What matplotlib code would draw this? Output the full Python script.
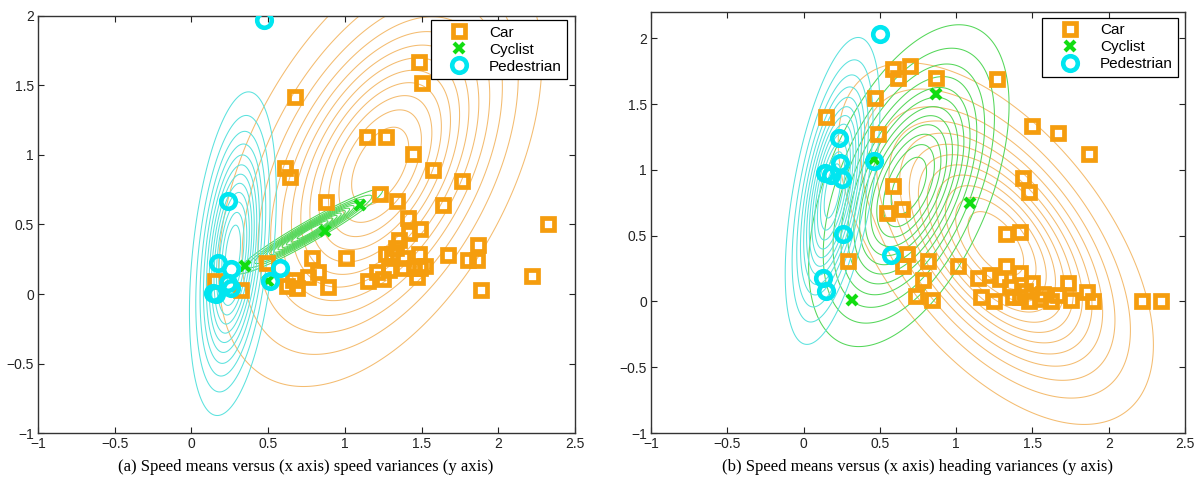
import numpy as np
import matplotlib.pyplot as plt

# ---- data ----
# panel (a): speed mean (x) vs speed variance (y)
car_a_x = [0.675, 0.61, 0.64, 1.48, 1.50, 1.145, 1.27, 1.445, 1.575, 1.76, 1.23, 1.34,
           0.88, 1.64, 1.41, 1.49, 2.325, 1.35, 1.42, 1.87, 1.67, 1.80, 1.86, 1.48, 2.22,
           1.89, 1.45, 0.49, 0.785, 1.01, 0.825, 0.66, 0.62, 0.69, 0.76, 0.89, 0.32, 0.155,
           1.15, 1.25, 1.27, 1.49, 1.47, 1.38, 1.31, 1.21, 1.29, 1.33, 1.52, 1.38]
car_a_y = [1.42, 0.91, 0.84, 1.67, 1.52, 1.13, 1.13, 1.01, 0.89, 0.81, 0.72, 0.67,
           0.66, 0.64, 0.55, 0.47, 0.50, 0.39, 0.44, 0.35, 0.28, 0.245, 0.245, 0.29, 0.13,
           0.03, 0.19, 0.22, 0.26, 0.26, 0.16, 0.10, 0.06, 0.04, 0.12, 0.05, 0.03, 0.09,
           0.09, 0.11, 0.29, 0.19, 0.12, 0.19, 0.29, 0.16, 0.17, 0.33, 0.20, 0.26]
cyc_a_x = [1.10, 0.87, 0.35, 0.50]
cyc_a_y = [0.64, 0.45, 0.20, 0.09]
ped_a_x = [0.47, 0.24, 0.17, 0.26, 0.24, 0.14, 0.26, 0.58, 0.51, 0.16]
ped_a_y = [1.97, 0.67, 0.22, 0.18, 0.08, 0.01, 0.04, 0.19, 0.09, 0.00]

# panel (b): speed mean (x) vs heading variance (y)
car_b_x = [0.585, 0.62, 0.47, 0.15, 0.49, 0.585, 0.55, 0.645, 0.70, 0.87, 1.27, 1.50,
           1.67, 1.87, 1.44, 1.48, 1.33, 1.42, 0.29, 0.68, 0.65, 0.815, 1.01, 0.78, 0.74,
           0.84, 1.14, 1.22, 1.33, 1.42, 1.16, 1.25, 1.37, 1.50, 1.73, 1.57, 1.67, 1.75,
           1.86, 1.90, 2.22, 2.34, 1.35, 1.42, 1.48, 1.45, 1.55, 1.62, 1.29]
car_b_y = [1.77, 1.70, 1.55, 1.40, 1.27, 0.88, 0.67, 0.70, 1.79, 1.70, 1.69, 1.33,
           1.28, 1.12, 0.94, 0.83, 0.51, 0.53, 0.31, 0.36, 0.27, 0.31, 0.27, 0.16, 0.045,
           0.01, 0.18, 0.20, 0.27, 0.22, 0.03, 0.00, 0.03, 0.14, 0.14, 0.06, 0.05, 0.01,
           0.07, 0.00, 0.00, 0.00, 0.11, 0.03, 0.00, 0.08, 0.02, 0.00, 0.17]
cyc_b_x = [0.87, 1.09, 0.46, 0.32]
cyc_b_y = [1.58, 0.75, 1.08, 0.01]
ped_b_x = [0.50, 0.23, 0.46, 0.14, 0.24, 0.25, 0.18, 0.26, 0.57, 0.13, 0.15]
ped_b_y = [2.03, 1.24, 1.07, 0.98, 1.05, 0.93, 0.96, 0.51, 0.35, 0.18, 0.08]

# fitted gaussians: (mean x, mean y, sd x, sd y, corr)
gauss_a = {"car": (1.23, 0.92, 0.465, 0.70, 0.475),
           "cyc": (0.77, 0.45, 0.21, 0.135, 0.96),
           "ped": (0.27, 0.29, 0.125, 0.514, 0.36)}
gauss_b = {"car": (1.26, 0.44, 0.456, 0.607, -0.56),
           "cyc": (0.69, 0.88, 0.29, 0.54, 0.50),
           "ped": (0.19, 0.84, 0.137, 0.515, 0.54)}
n_levels = 12

captions = ["(a) Speed means versus (x axis) speed variances (y axis)",
            "(b) Speed means versus (x axis) heading variances (y axis)"]

ORANGE = "#F59D0E"
GREEN = "#11DD11"
CYAN = "#00E6F0"
contour_colors = {"car": "#F4BC70", "cyc": "#55D75A", "ped": "#5CE2DE"}


def gauss_grid(params, xx, yy):
    mx, my, sx, sy, r = params
    dx = (xx - mx) / sx
    dy = (yy - my) / sy
    d2 = (dx * dx - 2 * r * dx * dy + dy * dy) / (1 - r * r)
    return np.exp(-0.5 * d2)


def fmt(v):
    return ('%g' % v).replace('-', '\u2212')


plt.rcParams['font.family'] = ['Liberation Sans', 'DejaVu Sans']
fig = plt.figure(figsize=(12, 4.92), dpi=100)
ax_a = fig.add_axes([0.0317, 0.1199, 0.4475, 0.8476])
ax_b = fig.add_axes([0.5425, 0.1199, 0.4450, 0.8557])

panels = [
    (ax_a, car_a_x, car_a_y, cyc_a_x, cyc_a_y, ped_a_x, ped_a_y, gauss_a, (-1, 2), (0.985, 0.990)),
    (ax_b, car_b_x, car_b_y, cyc_b_x, cyc_b_y, ped_b_x, ped_b_y, gauss_b, (-1, 2.2), (0.987, 0.986)),
]

xs = np.linspace(-1, 2.5, 500)
ys = np.linspace(-1, 2.5, 500)
xx, yy = np.meshgrid(xs, ys)
levels = np.arange(1, n_levels + 1) / (n_levels + 1)

for i, (ax, cx, cy, kx, ky, px, py, gauss, ylim, leg_pos) in enumerate(panels):
    for key in ["car", "cyc", "ped"]:
        ax.contour(xx, yy, gauss_grid(gauss[key], xx, yy), levels=levels,
                   colors=contour_colors[key], linewidths=0.75, zorder=1)

    ax.plot(cx, cy, 's', ms=8, mfc='none', mec=ORANGE, mew=3.4, label='Car', zorder=3)
    ax.plot(kx, ky, 'x', ms=7, mec=GREEN, mew=3, label='Cyclist', zorder=4)
    ax.plot(px, py, 'o', ms=10.5, mfc='none', mec=CYAN, mew=3.3, label='Pedestrian', zorder=5)

    xt = np.arange(-1, 2.51, 0.5)
    yt = np.arange(-1, ylim[1] + 0.01, 0.5)
    ax.set_xlim(-1, 2.5)
    ax.set_ylim(*ylim)
    ax.set_xticks(xt)
    ax.set_yticks(yt)
    ax.set_xticklabels([fmt(v) for v in xt])
    ax.set_yticklabels([fmt(v) for v in yt])
    ax.tick_params(direction='in', top=True, right=True, labelsize=10,
                   length=4, width=0.8, colors='#222222', pad=3)
    for sp in ax.spines.values():
        sp.set_linewidth(1.0)
        sp.set_color('#333333')

    leg = ax.legend(loc='upper right', bbox_to_anchor=leg_pos, fontsize=11,
                    frameon=True, fancybox=False, edgecolor='black', framealpha=1,
                    borderpad=0.35, labelspacing=0.2, handlelength=3.0,
                    handletextpad=0.45, borderaxespad=0)
    leg.get_frame().set_linewidth(0.9)

    fig.text(0.255 if i == 0 else 0.765, 0.035, captions[i], ha='center', va='bottom',
             fontsize=12, family=['Liberation Serif', 'DejaVu Serif'])

fig.savefig('out.png', dpi=100)
